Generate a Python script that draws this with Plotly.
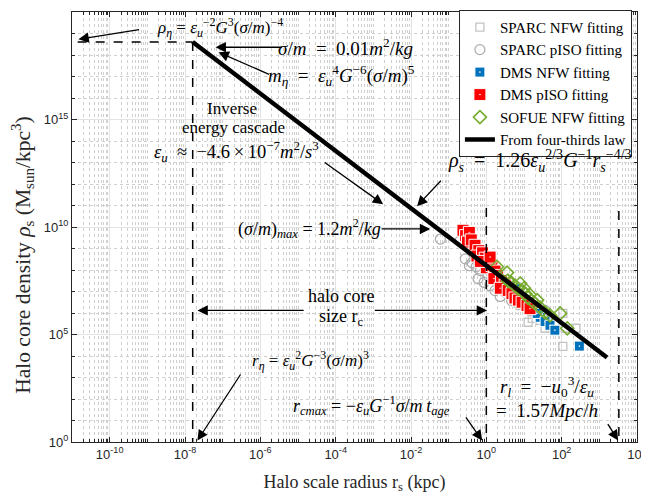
import plotly.graph_objects as go

# ---------------- data (log10 r_s [kpc], log10 rho_s [Msun/kpc^3]) ----------------
sparc_nfw_logr = [0.10, 0.23, 0.37, 0.50, 0.63, 0.76, 0.90, 1.03, 1.11, 1.29, 1.43, 1.63,
                  1.82, 2.03, 2.09, 2.38, 2.03, 1.56, 1.22, 0.67, -0.03, 0.45, 0.85, 1.35]
sparc_nfw_logrho = [7.97, 7.60, 7.27, 7.04, 6.81, 6.58, 6.35, 6.58, 5.57, 6.02, 5.66, 5.75,
                    5.57, 5.98, 5.29, 5.29, 4.45, 5.29, 5.75, 7.13, 8.34, 7.45, 6.45, 6.20]

sparc_piso_logr = [-1.22, -0.62, -0.49, -0.43, -0.56, -0.38, -0.27, -0.16, -0.22, -0.06,
                   0.05, 0.10, 0.23, 0.37, 0.50, 0.42, 0.63, 0.76, 0.90, 0.67, 1.03, 1.16,
                   1.56, -0.30, -0.03, 0.15, -0.70, -0.45, 0.30, 1.30]
sparc_piso_logrho = [9.44, 9.86, 9.70, 9.12, 8.52, 8.34, 8.15, 7.97, 7.60, 7.42,
                     7.74, 7.27, 7.04, 6.77, 6.96, 7.51, 7.27, 6.81, 6.67, 6.58, 6.35, 6.12,
                     6.12, 8.89, 8.20, 7.97, 9.35, 8.20, 7.40, 6.10]

dms_nfw_logr = [0.77, 0.62, 1.03, 1.16, 1.43, 1.35, 1.56, 1.69, 1.82, 2.47, 0.90, 0.63]
dms_nfw_logrho = [7.13, 6.95, 6.58, 6.30, 5.80, 5.98, 5.60, 5.43, 5.20, 4.46, 6.75, 7.27]

dms_piso_logr = [-0.62, -0.55, -0.45, -0.50, -0.40, -0.30, -0.20, -0.25, -0.10, -0.03,
                 0.05, 0.00, 0.15, 0.23, 0.30, 0.20, 0.40, 0.50, 0.37, 0.58, 0.68, 0.76,
                 0.85, 0.95, 1.08, 1.16, -0.16, 0.10]
dms_piso_logrho = [9.85, 9.60, 9.75, 9.30, 9.40, 9.15, 8.90, 8.65, 8.80, 8.55,
                   8.35, 8.10, 8.20, 7.95, 7.75, 7.60, 7.50, 7.30, 7.15, 7.05, 6.90, 6.70,
                   6.60, 6.50, 6.35, 6.20, 8.40, 8.60]

sofue_nfw_logr = [0.28, 0.57, 0.67, 0.76, 0.84, 0.95, 1.03, 1.10, 1.20, 1.29, 1.43, 1.56,
                  1.69, 1.96, 2.15, 0.55, 0.90, 1.00, 1.15, 1.35]
sofue_nfw_logrho = [8.15, 7.50, 7.40, 7.27, 7.13, 7.04, 6.90, 6.72, 6.58, 6.45, 6.25, 6.02,
                    5.89, 5.98, 5.29, 7.88, 7.37, 7.15, 6.85, 6.60]

# four-thirds law line endpoints and characteristic scales
four_thirds_r = [1.6e-8, 1.6e3]
four_thirds_rho = [4.0e18, 8.5e3]
r_eta = 1.6e-8
rho_eta = 4.0e18
r_cmax = 1.0
r_l = 3.3e3
rho_min = 1.0

x_tick_exp = [-10, -8, -6, -4, -2, 0, 2, 4]
y_tick_exp = [0, 5, 10, 15, 20]

def pw(v):
    return [10.0 ** a for a in v]

SERIF = "Liberation Serif"
SANS = "Liberation Sans"

fig = go.Figure()

fig.add_trace(go.Scatter(x=pw(sparc_nfw_logr), y=pw(sparc_nfw_logrho), mode="markers",
                         name="SPARC NFW fitting",
                         marker=dict(symbol="square-open", size=8, color="#c4c4c4",
                                     line=dict(width=1.3))))
fig.add_trace(go.Scatter(x=pw(sparc_piso_logr), y=pw(sparc_piso_logrho), mode="markers",
                         name="SPARC pISO fitting",
                         marker=dict(symbol="circle-open", size=10, color="#aaaaaa",
                                     line=dict(width=1.2))))
fig.add_trace(go.Scatter(x=pw(dms_nfw_logr), y=pw(dms_nfw_logrho), mode="markers",
                         name="DMS NFW fitting",
                         marker=dict(symbol="square-dot", size=10, color="#0072BD",
                                     line=dict(width=1, color="white"))))
fig.add_trace(go.Scatter(x=pw(dms_piso_logr), y=pw(dms_piso_logrho), mode="markers",
                         name="DMS pISO fitting",
                         marker=dict(symbol="square-dot", size=12, color="#FF0000",
                                     line=dict(width=1, color="white"))))
fig.add_trace(go.Scatter(x=pw(sofue_nfw_logr), y=pw(sofue_nfw_logrho), mode="markers",
                         name="SOFUE NFW fitting",
                         marker=dict(symbol="diamond-open", size=10, color="#77AC30",
                                     line=dict(width=1.6))))
fig.add_trace(go.Scatter(x=four_thirds_r, y=four_thirds_rho, mode="lines",
                         name="From four-thirds law",
                         line=dict(color="black", width=4.5)))

# dashed guide lines
dash = dict(color="black", width=1.5, dash="dash")
fig.add_trace(go.Scatter(x=[10 ** -10.85, r_eta], y=[rho_eta, rho_eta], mode="lines",
                         line=dash, showlegend=False, hoverinfo="skip"))
fig.add_trace(go.Scatter(x=[r_eta, r_eta], y=[rho_eta, rho_min], mode="lines",
                         line=dash, showlegend=False, hoverinfo="skip"))
fig.add_trace(go.Scatter(x=[r_cmax, r_cmax], y=[10 ** 10.88, rho_min], mode="lines",
                         line=dash, showlegend=False, hoverinfo="skip"))
fig.add_trace(go.Scatter(x=[r_l, r_l], y=[10 ** 10.74, rho_min], mode="lines",
                         line=dash, showlegend=False, hoverinfo="skip"))

ann = []
EQ = "\u2002=\u2002"
EQS = " = "

def text(x, y, s, size=19):
    ann.append(dict(x=x, y=y, xref="x", yref="y", text=s, showarrow=False,
                    font=dict(family=SERIF, size=size, color="black"),
                    xanchor="center", yanchor="middle"))

def arrow(x0, y0, x1, y1):
    ann.append(dict(x=x1, y=y1, ax=x0, ay=y0, xref="x", yref="y", axref="x", ayref="y",
                    text="", showarrow=True, arrowhead=2, arrowsize=1.6, arrowwidth=1.3,
                    arrowcolor="black"))

text(-7.06, 19.28, "<i>ρ<sub>η</sub></i>" + EQS + "<i>ε<sub>u</sub></i><sup>−2</sup><i>G</i><sup>3</sup>(<i>σ</i>/<i>m</i>)<sup>−4</sup>", size=17)
arrow(-9.18, 19.19, -10.83, 18.73)

text(-3.75, 18.36, "<i>σ</i>/<i>m</i>" + EQ + "0.01<i>m</i><sup>2</sup>/<i>kg</i>")
arrow(-5.39, 18.36, -7.19, 18.36)

text(-3.85, 17.07, "<i>m<sub>η</sub></i>" + EQ + "<i>ε<sub>u</sub></i><sup>4</sup><i>G</i><sup>−6</sup>(<i>σ</i>/<i>m</i>)<sup>5</sup>")
arrow(-5.73, 17.07, -7.11, 18.13)

text(-6.74, 15.50, "Inverse", size=17)
text(-6.70, 14.62, "energy cascade", size=17)
text(-6.64, 13.52, "<i>ε<sub>u</sub></i>\u2002≈\u2002−4.6\u2009×\u200910<sup>−7</sup><i>m</i><sup>2</sup>/<i>s</i><sup>3</sup>", size=18.5)
arrow(-4.33, 13.05, -2.74, 11.06)

text(1.43, 13.05, "<i>ρ<sub>s</sub></i>" + EQ + "1.26<i>ε<sub>u</sub></i><sup>2/3</sup><i>G</i><sup>−1</sup><i>r<sub>s</sub></i><sup>−4/3</sup>", size=20)
arrow(-1.17, 12.22, -1.84, 10.97)

text(-4.70, 9.91, "(<i>σ</i>/<i>m</i>)<sub><i>max</i></sub>" + EQS + "1.2<i>m</i><sup>2</sup>/<i>kg</i>", size=18)
arrow(-2.82, 9.91, -1.49, 9.91)

text(-3.85, 6.77, "halo core", size=18)
text(-3.85, 5.80, "size r<sub>c</sub>", size=18)
arrow(-4.81, 6.12, -7.67, 6.12)
arrow(-3.00, 6.12, 0.02, 6.12)

text(-4.67, 3.81, "<i>r<sub>η</sub></i>" + EQS + "<i>ε<sub>u</sub></i><sup>2</sup><i>G</i><sup>−3</sup>(<i>σ</i>/<i>m</i>)<sup>3</sup>", size=17)
arrow(-6.50, 3.21, -7.67, 0.07)

text(-3.06, 1.69, "<i>r<sub>cmax</sub></i>" + EQS + "−<i>ε<sub>u</sub>G</i><sup>−1</sup><i>σ</i>/<i>m</i>\u2009<i>t<sub>age</sub></i>", size=18)
arrow(-0.57, 1.22, -0.11, 0.07)

text(1.61, 2.58, "<i>r<sub>l</sub></i>" + EQ + "−<i>u</i><sub>0</sub><sup>3</sup>/<i>ε<sub>u</sub></i>")
text(1.61, 1.45, "=\u20021.57<i>Mpc</i>/<i>h</i>")
arrow(3.20, 0.90, 3.50, 0.07)

# y axis title (rotated)
ann.append(dict(x=-0.087, y=0.435, xref="paper", yref="paper", showarrow=False,
                text="Halo core density <i>ρ</i><sub>s</sub> (M<sub>sun</sub>/kpc<sup>3</sup>)",
                textangle=-90, xanchor="center", yanchor="middle",
                font=dict(family=SERIF, size=21.5, color="#262626")))

axis_common = dict(
    type="log", showline=True, linecolor="#262626", linewidth=1, mirror="allticks",
    ticks="inside", ticklen=5, tickcolor="#262626", automargin=False,
    showgrid=True, gridcolor="#e3e3e3", gridwidth=1, zeroline=False,
    tickfont=dict(family=SANS, size=13, color="#262626"),
)

# page body has an 8px margin: figure spans page x 8..649, y 8..500
fig.update_layout(
    width=641, height=492,
    margin=dict(l=64, r=12, t=2, b=58),
    paper_bgcolor="white", plot_bgcolor="white",
    xaxis=dict(axis_common, range=[-11, 4],
               tickvals=pw(x_tick_exp),
               ticktext=["10<sup>%d</sup>" % e for e in x_tick_exp],
               minor=dict(dtick="D1", showgrid=True, griddash="dot", gridcolor="#cfcfcf",
                          ticks="inside", ticklen=3, tickcolor="#262626"),
               title=dict(text="Halo scale radius r<sub>s</sub> (kpc)",
                          font=dict(family=SERIF, size=18, color="#262626"), standoff=14)),
    yaxis=dict(axis_common, range=[0, 20],
               tickvals=pw(y_tick_exp),
               ticktext=["10<sup>%d</sup>" % e for e in y_tick_exp],
               minor=dict(dtick=1, showgrid=True, griddash="dot", gridcolor="#cfcfcf",
                          ticks="inside", ticklen=3, tickcolor="#262626")),
    legend=dict(x=0.991, y=1.005, xanchor="right", yanchor="top",
                bgcolor="white", bordercolor="#262626", borderwidth=1,
                font=dict(family=SERIF, size=15, color="black"),
                itemwidth=30, tracegroupgap=0),
    annotations=ann,
    showlegend=True,
)

fig.write_html("out.html")
